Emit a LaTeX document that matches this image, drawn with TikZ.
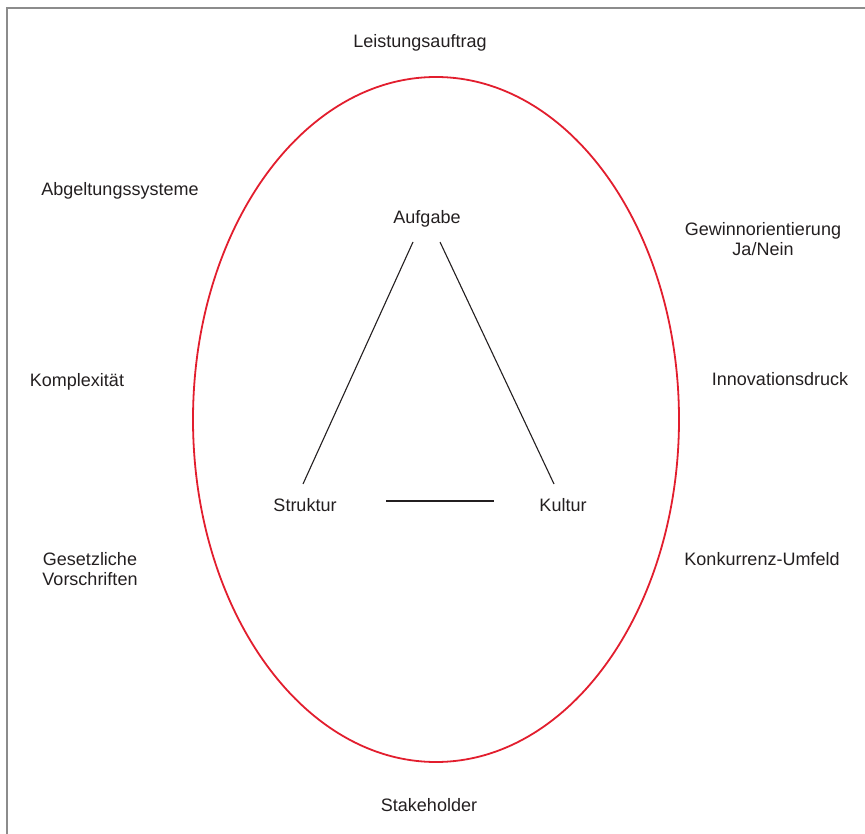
\documentclass[tikz,border=0pt]{standalone}
\usepackage{fontspec}
\setmainfont{Liberation Sans}
\usetikzlibrary{calc}
\definecolor{ringred}{RGB}{226,30,46}
\definecolor{framegray}{RGB}{140,140,140}
\definecolor{txt}{RGB}{35,31,32}
\tikzset{lbl/.style={font=\fontsize{18}{20.5}\selectfont, text=txt, inner sep=0pt, anchor=base}}

\begin{document}
\begin{tikzpicture}[x=1pt, y=-1pt]
                \useasboundingbox (0,0) rectangle (865,834);
                \draw[framegray, line width=1.5pt] (7,834) -- (7,8) -- (865,8);

                \node[lbl] (leistung) at (420,48) {Leistungsauftrag};
                \node[lbl] (abgeltung) at (120,196) {Abgeltungssysteme};
                \node[lbl] (aufgabe) at (427,224) {Aufgabe};
                \node[lbl, anchor=center, align=center] (gewinn) at (763,239) {Gewinnorientierung\\Ja/Nein};
                \node[lbl] (komplex) at (77,386) {Komplexität};
                \node[lbl] (innovation) at (780,385) {Innovationsdruck};
                \node[lbl] (struktur) at (305,511) {Struktur};
                \node[lbl] (kultur) at (563,511) {Kultur};
                \node[lbl, anchor=center, align=center] (gesetz) at (90,569) {Gesetzliche\\Vorschriften};
                \node[lbl] (konkurrenz) at (762,565) {Konkurrenz-Umfeld};
                \node[lbl] (stakeholder) at (429,811) {Stakeholder};

                % Ellipse um das Dreieck
                \draw[ringred, line width=1.8pt] (436,419.5) ellipse [x radius=243pt, y radius=342.5pt];

                \draw[txt, line width=1.1pt] ($(aufgabe.base)+(-14,18)$) -- ($(struktur.base)+(-2,-27)$);
                \draw[txt, line width=1.1pt] ($(aufgabe.base)+(13,18)$) -- ($(kultur.base)+(-9,-27)$);
                \draw[txt, line width=1.1pt] ($(struktur.base)+(81,-10)$) -- ($(kultur.base)+(-69,-10)$);
\end{tikzpicture}
\end{document}
